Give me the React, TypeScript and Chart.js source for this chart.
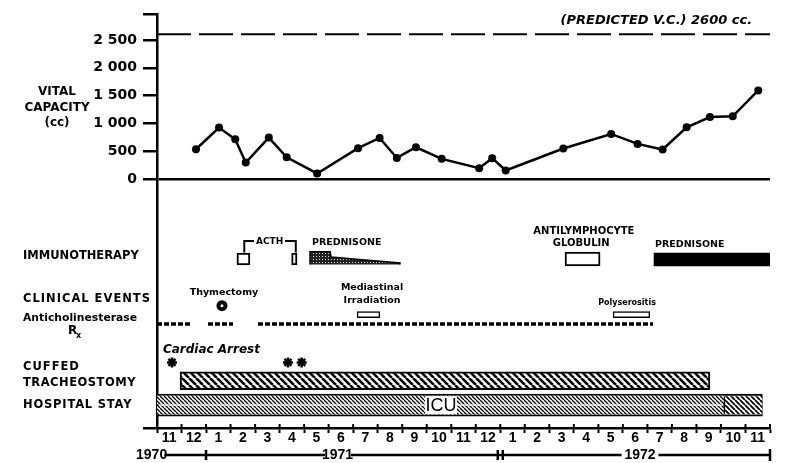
import React, { useEffect, useRef } from 'react';
import { Chart, registerables } from 'chart.js';

Chart.register(...registerables);

// ---------------- data ----------------
const MONTH_LABELS = ['11', '12', '1', '2', '3', '4', '5', '6', '7', '8', '9', '10', '11', '12', '1', '2', '3', '4', '5', '6', '7', '8', '9', '10', '11'];
const YEAR_LABELS = ['1970', '1971', '1972'];
const VC_TICKS = [0, 500, 1000, 1500, 2000, 2500];
// months since 1 Nov 1970
const VC_MONTHS = [1.59, 2.53, 3.19, 3.62, 4.56, 5.29, 6.53, 8.2, 9.08, 9.78, 10.56, 11.61, 13.14, 13.67, 14.22, 16.57, 18.52, 19.6, 20.62, 21.6, 22.55, 23.48, 24.52];
const VC_VALUES = [541, 929, 720, 304, 750, 398, 107, 560, 744, 385, 577, 369, 202, 381, 161, 554, 815, 637, 536, 934, 1119, 1131, 1595];
const PREDICTED_VC = 2600;

const ACTH_STARTS = [3.26, 5.49];
const ACTH_ENDS = [3.79, 5.71];
const ALG_PERIOD = [16.64, 18.07];
const PRED2_PERIOD = [20.27, 25];
const PRED1_MONTHS = [6.24, 6.24, 7.06, 7.1, 8.5, 9.91, 9.91];
const PRED1_DOSE = [0, 1, 1, 0.59, 0.35, 0.12, 0];
const THYMECTOMY_MONTH = 2.65;
const IRRADIATION_PERIOD = [8.16, 9.09];
const POLYSEROSITIS_PERIOD = [18.6, 20.1];
const ANTICHOL_STARTS = [0, 2.08, 4.12];
const ANTICHOL_ENDS = [1.35, 3.1, 20.23];
const ARREST_MONTHS = [0.61, 5.34, 5.9];
const TRACH_PERIOD = [0.94, 22.55];
const HOSPITAL_PERIOD = [0, 24.69];
const ICU_PERIOD = [0, 23.1];

// ---------------- layout ----------------
const W = 787;
const H = 463;
const AREA_TOP = 12;
const AREA_BOTTOM = 428;
const AXIS_W = 157;
const ZERO_Y = 178;
const VC_MAX = 2957;
const VC_MIN = -VC_MAX * (AREA_BOTTOM - ZERO_Y) / (ZERO_Y - AREA_TOP);
const LANE_PX = 25;
const LANE_MAX = (AREA_BOTTOM - ZERO_Y) / LANE_PX;
const LANE_MIN = -(ZERO_Y - AREA_TOP) / LANE_PX;
const L_IMMUNO = 3.2;
const L_IMMUNO_BASE = 3.42;
const L_IMMUNO_H = 0.51;
const L_EVENT = 5.08;
const L_EVENT_BOX = 5.44;
const L_ANTICHOL = 5.82;
const L_ARREST = 7.36;
const L_TRACH = 8.1;
const L_HOSP = 9.08;
const L_ICU_TOP = 8.88;
const L_ICU_BOT = 9.28;
const YEAR_POS = [-0.22, 7.36, 19.7];

const DV = "'DejaVu Sans', sans-serif";
const LB = "'Liberation Sans', sans-serif";

const fmtVC = (v: number) => (v >= 1000 ? `${Math.floor(v / 1000)} ${String(v % 1000).padStart(3, '0')}` : String(v));

function makeHatch(size: number, lw: number) {
  const c = document.createElement('canvas');
  c.width = size;
  c.height = size;
  const g = c.getContext('2d')!;
  g.fillStyle = '#fff';
  g.fillRect(0, 0, size, size);
  g.strokeStyle = '#000';
  g.lineWidth = lw;
  g.beginPath();
  for (let k = -1; k <= 1; k++) {
    g.moveTo(k * size, 0);
    g.lineTo(k * size + size, size);
  }
  g.stroke();
  return g.createPattern(c, 'repeat')!;
}

function makeStipple() {
  const c = document.createElement('canvas');
  c.width = 3;
  c.height = 3;
  const g = c.getContext('2d')!;
  g.fillStyle = '#222';
  g.fillRect(0, 0, 3, 3);
  g.fillStyle = '#ddd';
  g.fillRect(1, 1, 1, 1);
  return g.createPattern(c, 'repeat')!;
}

const annotate = {
  id: 'annotate',
  afterDraw(chart: any) {
    const { ctx } = chart;
    const x = chart.scales.x;
    const y = chart.scales.y;
    const yL = chart.scales.yL;
    const px = (m: number) => x.getPixelForValue(m);
    const py = (v: number) => y.getPixelForValue(v);
    const pl = (l: number) => yL.getPixelForValue(l);
    ctx.save();
    ctx.fillStyle = '#000';
    ctx.strokeStyle = '#000';
    const text = (s: string, X: number, Y: number, font: string, align = 'center', ls = '0px') => {
      ctx.font = font;
      ctx.textAlign = align;
      ctx.textBaseline = 'middle';
      ctx.letterSpacing = ls;
      ctx.fillText(s, X, Y);
      ctx.letterSpacing = '0px';
    };

    // y-axis title
    text('VITAL', 57, py(1565), `bold 12px ${DV}`);
    text('CAPACITY', 57, py(1280), `bold 12px ${DV}`);
    text('(cc)', 57, py(1013), `bold 12px ${DV}`);
    text('(PREDICTED V.C.) 2600 cc.', px(24.27), py(2845), `italic bold 13px ${DV}`, 'right');

    // lane labels
    text('IMMUNOTHERAPY', 23, pl(3.08), `bold 11.5px ${DV}`, 'left');
    text('CLINICAL EVENTS', 23, pl(4.8), `bold 11.5px ${DV}`, 'left', '1px');
    text('Anticholinesterase', 23, pl(5.6), `bold 10.8px ${DV}`, 'left');
    text('R', 68, pl(6.1), `bold 12px ${DV}`, 'left');
    text('x', 76, pl(6.3), `bold 8px ${DV}`, 'left');
    text('CUFFED', 23, pl(7.56), `bold 11.5px ${DV}`, 'left', '1px');
    text('TRACHEOSTOMY', 23, pl(8.2), `bold 11.5px ${DV}`, 'left', '0.5px');
    text('HOSPITAL STAY', 23, pl(9.08), `bold 11.5px ${DV}`, 'left', '0.8px');

    // annotations
    text('ACTH', px(4.59), pl(2.52), `bold 9px ${DV}`);
    ctx.lineWidth = 2;
    ctx.beginPath();
    ctx.moveTo(px(3.56), pl(2.94));
    ctx.lineTo(px(3.56), pl(2.48));
    ctx.lineTo(px(3.96), pl(2.48));
    ctx.moveTo(px(5.22), pl(2.48));
    ctx.lineTo(px(5.66), pl(2.48));
    ctx.lineTo(px(5.66), pl(2.94));
    ctx.stroke();
    text('PREDNISONE', px(6.32), pl(2.52), `bold 9.5px ${DV}`, 'left');
    text('ANTILYMPHOCYTE', px(17.41), pl(2.08), `bold 10px ${DV}`);
    text('GLOBULIN', px(17.3), pl(2.56), `bold 10px ${DV}`);
    text('PREDNISONE', px(20.31), pl(2.6), `bold 9.5px ${DV}`, 'left');
    text('Thymectomy', px(2.73), pl(4.56), `bold 9.5px ${DV}`);
    text('Mediastinal', px(8.77), pl(4.36), `bold 9.5px ${DV}`);
    text('Irradiation', px(8.77), pl(4.88), `bold 9.5px ${DV}`);
    text('Polyserositis', px(19.17), pl(4.96), `bold 8px ${DV}`);
    text('Cardiac Arrest', px(0.24), pl(6.84), `italic bold 12px ${DV}`, 'left');

    // ICU label
    ctx.fillStyle = '#fff';
    ctx.fillRect(px(11.58) - 16, pl(L_HOSP) - 9, 32, 18);
    ctx.fillStyle = '#000';
    text('ICU', px(11.58), pl(L_HOSP) + 1, `18px ${LB}`);

    // month ticks crossing the axis (upper half)
    const bot = chart.chartArea.bottom;
    ctx.lineWidth = 2;
    ctx.beginPath();
    for (let i = 1; i <= MONTH_LABELS.length; i++) {
      ctx.moveTo(px(i), bot - 4);
      ctx.lineTo(px(i), bot);
    }
    ctx.stroke();

    // year row
    const yy = 455;
    YEAR_LABELS.forEach((s, i) => text(s, px(YEAR_POS[i]), yy, `bold 14px ${LB}`));
    ctx.lineWidth = 2.5;
    ctx.beginPath();
    ctx.moveTo(px(0.3), yy);
    ctx.lineTo(px(6.85), yy);
    ctx.moveTo(px(7.9), yy);
    ctx.lineTo(px(18.95), yy);
    ctx.moveTo(px(20.45), yy);
    ctx.lineTo(px(25), yy);
    ctx.moveTo(px(2), yy - 5);
    ctx.lineTo(px(2), yy + 5);
    ctx.moveTo(px(14) - 2.5, yy - 5);
    ctx.lineTo(px(14) - 2.5, yy + 5);
    ctx.moveTo(px(14) + 2.5, yy - 5);
    ctx.lineTo(px(14) + 2.5, yy + 5);
    ctx.moveTo(px(25), yy - 6);
    ctx.lineTo(px(25), yy + 6);
    ctx.stroke();
    ctx.restore();
  },
};

export default function App() {
  const ref = useRef<HTMLCanvasElement | null>(null);

  useEffect(() => {
    document.body.style.margin = '0';
    const canvas = ref.current!;
    const coarse = makeHatch(7, 2.6);
    const medium = makeHatch(5, 1.8);
    const fine = makeHatch(4, 1.3);
    const stipple = makeStipple();

    const hbar = (data: any[], extra: any) => ({
      type: 'bar',
      indexAxis: 'y',
      xAxisID: 'x',
      yAxisID: 'yL',
      grouped: false,
      borderSkipped: false,
      borderColor: '#000',
      data,
      ...extra,
    });

    const anticholData: any[] = [];
    ANTICHOL_STARTS.forEach((s, i) => {
      anticholData.push({ x: s, y: L_ANTICHOL });
      anticholData.push({ x: ANTICHOL_ENDS[i], y: L_ANTICHOL });
      if (i < ANTICHOL_STARTS.length - 1) anticholData.push({ x: (ANTICHOL_ENDS[i] + ANTICHOL_STARTS[i + 1]) / 2, y: null });
    });

    const chart = new Chart(canvas, {
      type: 'line',
      data: {
        datasets: [
          {
            type: 'line',
            xAxisID: 'x',
            yAxisID: 'y',
            data: VC_MONTHS.map((m, i) => ({ x: m, y: VC_VALUES[i] })),
            borderColor: '#000',
            borderWidth: 2.5,
            pointRadius: 4,
            pointBackgroundColor: '#000',
            pointBorderWidth: 0,
            tension: 0,
            order: 0,
          },
          {
            type: 'line',
            xAxisID: 'x',
            yAxisID: 'y',
            data: [{ x: 0, y: PREDICTED_VC }, { x: 25, y: PREDICTED_VC }],
            borderColor: '#000',
            borderWidth: 2,
            borderDash: [34, 8],
            pointRadius: 0,
            order: 1,
          },
          {
            type: 'line',
            xAxisID: 'x',
            yAxisID: 'yL',
            data: [{ x: THYMECTOMY_MONTH, y: L_EVENT }],
            showLine: false,
            pointRadius: 1.5,
            pointBackgroundColor: '#fff',
            pointBorderWidth: 0,
            order: 0,
          },
          {
            type: 'line',
            xAxisID: 'x',
            yAxisID: 'yL',
            data: [{ x: THYMECTOMY_MONTH, y: L_EVENT }],
            showLine: false,
            pointRadius: 5.5,
            pointBackgroundColor: '#000',
            pointBorderColor: '#000',
            pointBorderWidth: 0,
            order: 1,
          },
          {
            type: 'line',
            xAxisID: 'x',
            yAxisID: 'yL',
            data: ARREST_MONTHS.map((m) => ({ x: m, y: L_ARREST })),
            showLine: false,
            pointStyle: 'star',
            pointRadius: 5,
            pointBorderWidth: 2.5,
            pointBorderColor: '#000',
            order: 1,
          },
          {
            type: 'line',
            xAxisID: 'x',
            yAxisID: 'yL',
            data: anticholData,
            borderColor: '#000',
            borderWidth: 3.5,
            borderDash: [5, 2],
            pointRadius: 0,
            spanGaps: false,
            order: 2,
          },
          {
            type: 'line',
            xAxisID: 'x',
            yAxisID: 'yL',
            data: PRED1_MONTHS.map((m, i) => ({ x: m, y: L_IMMUNO_BASE - PRED1_DOSE[i] * L_IMMUNO_H })),
            borderColor: '#000',
            borderWidth: 1.5,
            backgroundColor: stipple,
            fill: { value: L_IMMUNO_BASE },
            pointRadius: 0,
            tension: 0,
            order: 2,
          },
          hbar(ACTH_STARTS.map((s, i) => ({ x: [s, ACTH_ENDS[i]], y: L_IMMUNO })), { backgroundColor: '#fff', borderWidth: 2, barThickness: 12, order: 2 }),
          hbar([{ x: ALG_PERIOD, y: L_IMMUNO }], { backgroundColor: '#fff', borderWidth: 2, barThickness: 14, order: 2 }),
          hbar([{ x: PRED2_PERIOD, y: L_IMMUNO + 0.02 }], { backgroundColor: '#000', borderWidth: 0, barThickness: 13, order: 2 }),
          hbar([{ x: IRRADIATION_PERIOD, y: L_EVENT_BOX }, { x: POLYSEROSITIS_PERIOD, y: L_EVENT_BOX }], { backgroundColor: '#fff', borderWidth: 1.5, barThickness: 6, order: 2 }),
          hbar([{ x: TRACH_PERIOD, y: L_TRACH }], { backgroundColor: coarse, borderWidth: 2, barThickness: 18, order: 3 }),
          hbar([{ x: ICU_PERIOD, y: L_ICU_TOP }, { x: ICU_PERIOD, y: L_ICU_BOT }], { backgroundColor: fine, borderWidth: 0, barThickness: 8, order: 3 }),
          hbar([{ x: [ICU_PERIOD[1], HOSPITAL_PERIOD[1]], y: L_HOSP }], { backgroundColor: medium, borderWidth: { left: 2, right: 0, top: 0, bottom: 0 }, barThickness: 18, order: 3 }),
          hbar([{ x: HOSPITAL_PERIOD, y: L_HOSP }], { backgroundColor: '#fff', borderWidth: 2, barThickness: 22, order: 5 }),
        ] as any,
      },
      options: {
        animation: false,
        responsive: false,
        events: [],
        layout: { padding: { top: AREA_TOP, right: W - 770, bottom: 0, left: 0 } },
        plugins: { legend: { display: false }, tooltip: { enabled: false } },
        scales: {
          x: {
            type: 'linear',
            min: 0,
            max: 25,
            offset: false,
            afterBuildTicks: (s: any) => {
              s.ticks = MONTH_LABELS.map((_, i) => ({ value: i + 0.5 }));
            },
            afterFit: (s: any) => {
              s.height = H - AREA_BOTTOM;
            },
            ticks: {
              autoSkip: false,
              maxRotation: 0,
              padding: -3,
              color: '#000',
              font: { family: LB, size: 14, weight: 'bold' },
              callback: (_v: any, i: number) => MONTH_LABELS[i],
            },
            grid: { offset: true, drawOnChartArea: false, tickLength: 5, tickColor: '#000', tickWidth: 2, color: '#000' },
            border: { color: '#000', width: 2.5 },
          },
          y: {
            type: 'linear',
            position: 'left',
            min: VC_MIN,
            max: VC_MAX,
            offset: false,
            afterBuildTicks: (s: any) => {
              s.ticks = [VC_MIN, ...VC_TICKS, VC_MAX].map((v) => ({ value: v }));
            },
            afterFit: (s: any) => {
              s.width = AXIS_W;
            },
            ticks: {
              autoSkip: false,
              padding: 6,
              color: '#000',
              font: { family: DV, size: 14, weight: 'bold' },
              callback: (v: any) => (VC_TICKS.includes(v) ? fmtVC(v) : ''),
            },
            grid: {
              color: (c: any) => (c.tick && c.tick.value === 0 ? '#000' : 'rgba(0,0,0,0)'),
              lineWidth: 2.5,
              tickColor: '#000',
              tickLength: 14,
              tickWidth: 2.5,
            },
            border: { color: '#000', width: 2.5 },
          },
          yL: {
            type: 'linear',
            position: 'left',
            display: false,
            reverse: true,
            offset: false,
            min: LANE_MIN,
            max: LANE_MAX,
          },
        },
      } as any,
      plugins: [annotate],
    });
    return () => chart.destroy();
  }, []);

  return (
    <div style={{ width: W, height: H, position: 'relative', background: '#fff' }}>
      <canvas ref={ref} width={W} height={H} style={{ width: W, height: H, display: 'block' }} />
    </div>
  );
}
